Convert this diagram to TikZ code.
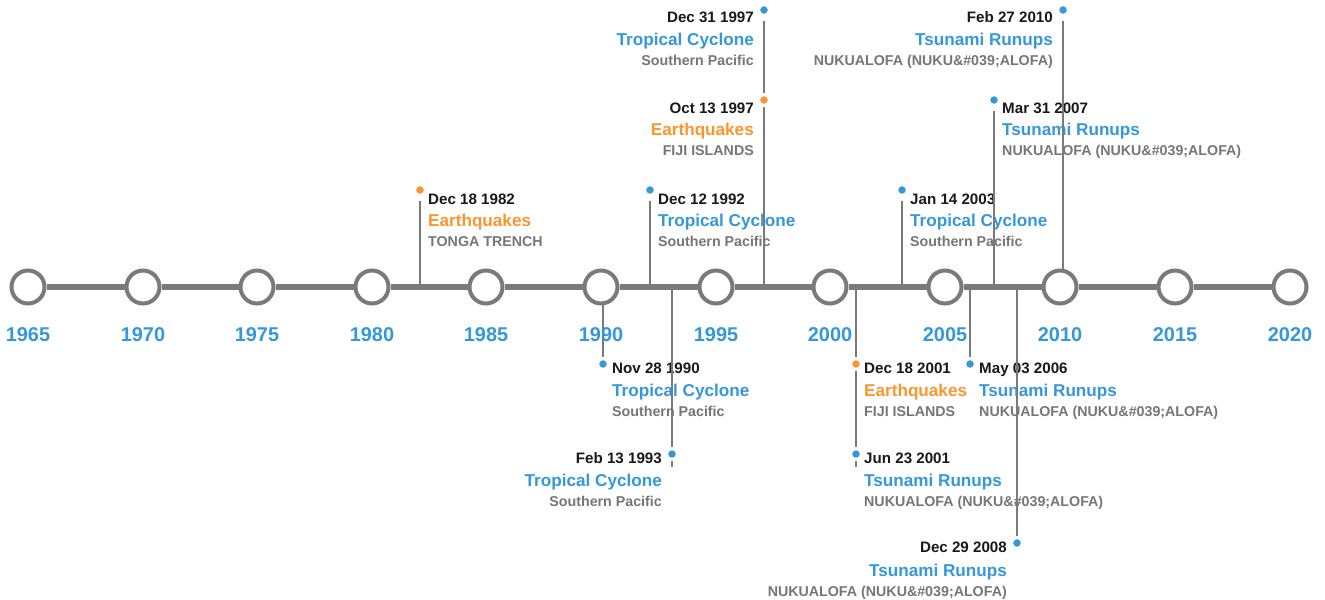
\documentclass[tikz,border=0pt]{standalone}
\usepackage{fontspec}
\setmainfont{Liberation Sans}
\usepackage{xcolor}
\usepackage{tikz}

\definecolor{tlgray}{RGB}{122,122,122}
\definecolor{tlblue}{RGB}{52,152,219}
\definecolor{tlorange}{RGB}{250,150,45}
\definecolor{tlsub}{RGB}{118,118,118}

\tikzset{
    yearmark/.style={circle, draw=tlgray, fill=white, line width=4bp, minimum size=33bp, inner sep=0pt,
        label={[yearlabel]below:#1}},
    yearlabel/.style={text=tlblue, font=\fontsize{20}{24}\selectfont\bfseries, inner sep=0pt, label distance=22bp},
    axisline/.style={draw=tlgray, line width=6bp},
    stem/.style={draw=tlgray, line width=2.5bp},
    dot/.style={circle, fill=#1, draw=white, line width=3bp, minimum size=11bp, inner sep=0pt},
    evdate/.style={text=black!90, font=\fontsize{15.2}{18}\selectfont\bfseries, inner sep=0pt},
    evtitle/.style={text=#1, font=\fontsize{17.2}{20}\selectfont\bfseries, inner sep=0pt},
    evsub/.style={text=tlsub, font=\fontsize{14.3}{17}\selectfont\bfseries, inner sep=0pt}
}

\begin{document}
\begin{tikzpicture}[x=1bp, y=-1bp]
    \useasboundingbox[fill=white] (0,0) rectangle (1325,600);

    % event points and their feet on the axis
    \coordinate (e82) at (420,190);   \coordinate (b82) at (420,287);
    \coordinate (e92) at (650,190);   \coordinate (b92) at (650,287);
    \coordinate (e03) at (902,190);   \coordinate (b03) at (902,287);
    \coordinate (e07) at (994,100);   \coordinate (b07) at (994,287);
    \coordinate (e97o) at (764,100);  \coordinate (b97o) at (764,287);
    \coordinate (e97d) at (764,10);   \coordinate (b97d) at (764,287);
    \coordinate (e10) at (1063,10);   \coordinate (b10) at (1063,287);
    \coordinate (e90) at (603,364);   \coordinate (b90) at (603,287);
    \coordinate (e93) at (672,454);   \coordinate (b93) at (672,287);   \coordinate (s93) at (672,467);
    \coordinate (e01d) at (856,364);  \coordinate (b01d) at (856,287);
    \coordinate (e01j) at (856,454);  \coordinate (b01j) at (856,287);  \coordinate (s01j) at (856,467);
    \coordinate (e06) at (970,364);   \coordinate (b06) at (970,287);
    \coordinate (e08) at (1017,543);  \coordinate (b08) at (1017,287);

    % labels above the axis
    \node[evdate, anchor=base west] (d82) at (428,204) {Dec 18 1982};
    \node[evtitle=tlorange, anchor=base west] (t82) at (428,226) {Earthquakes};
    \node[evsub, anchor=base west] (p82) at (428,246) {TONGA TRENCH};

    \node[evdate, anchor=base west] (d92) at (658,204) {Dec 12 1992};
    \node[evtitle=tlblue, anchor=base west] (t92) at (658,226) {Tropical Cyclone};
    \node[evsub, anchor=base west] (p92) at (658,246) {Southern Pacific};

    \node[evdate, anchor=base west] (d03) at (910,204) {Jan 14 2003};
    \node[evtitle=tlblue, anchor=base west] (t03) at (910,226) {Tropical Cyclone};
    \node[evsub, anchor=base west] (p03) at (910,246) {Southern Pacific};

    \node[evdate, anchor=base west] (d07) at (1002,114) {Mar 31 2007};
    \node[evtitle=tlblue, anchor=base west] (t07) at (1002,136) {Tsunami Runups};
    \node[evsub, anchor=base west] (p07) at (1002,156) {NUKUALOFA (NUKU\&\#039;ALOFA)};

    \node[evdate, anchor=base east] (d97o) at (754,114) {Oct 13 1997};
    \node[evtitle=tlorange, anchor=base east] (t97o) at (754,136) {Earthquakes};
    \node[evsub, anchor=base east] (p97o) at (754,156) {FIJI ISLANDS};

    \node[evdate, anchor=base east] (d97d) at (754,23) {Dec 31 1997};
    \node[evtitle=tlblue, anchor=base east] (t97d) at (754,46) {Tropical Cyclone};
    \node[evsub, anchor=base east] (p97d) at (754,66) {Southern Pacific};

    \node[evdate, anchor=base east] (d10) at (1053,23) {Feb 27 2010};
    \node[evtitle=tlblue, anchor=base east] (t10) at (1053,46) {Tsunami Runups};
    \node[evsub, anchor=base east] (p10) at (1053,66) {NUKUALOFA (NUKU\&\#039;ALOFA)};

    % labels below the axis
    \node[evdate, anchor=base west] (d90) at (612,373) {Nov 28 1990};
    \node[evtitle=tlblue, anchor=base west] (t90) at (612,396) {Tropical Cyclone};
    \node[evsub, anchor=base west] (p90) at (612,416) {Southern Pacific};

    \node[evdate, anchor=base east] (d93) at (662,463) {Feb 13 1993};
    \node[evtitle=tlblue, anchor=base east] (t93) at (662,486) {Tropical Cyclone};
    \node[evsub, anchor=base east] (p93) at (662,506) {Southern Pacific};

    \node[evdate, anchor=base west] (d01d) at (864,373) {Dec 18 2001};
    \node[evtitle=tlorange, anchor=base west] (t01d) at (864,396) {Earthquakes};
    \node[evsub, anchor=base west] (p01d) at (864,416) {FIJI ISLANDS};

    \node[evdate, anchor=base west] (d01j) at (864,463) {Jun 23 2001};
    \node[evtitle=tlblue, anchor=base west] (t01j) at (864,486) {Tsunami Runups};
    \node[evsub, anchor=base west] (p01j) at (864,506) {NUKUALOFA (NUKU\&\#039;ALOFA)};

    \node[evdate, anchor=base west] (d06) at (979,373) {May 03 2006};
    \node[evtitle=tlblue, anchor=base west] (t06) at (979,396) {Tsunami Runups};
    \node[evsub, anchor=base west] (p06) at (979,416) {NUKUALOFA (NUKU\&\#039;ALOFA)};

    \node[evdate, anchor=base east] (d08) at (1007,552) {Dec 29 2008};
    \node[evtitle=tlblue, anchor=base east] (t08) at (1007,576) {Tsunami Runups};
    \node[evsub, anchor=base east] (p08) at (1007,596) {NUKUALOFA (NUKU\&\#039;ALOFA)};

    % stems
    \draw[stem, shorten >=11bp] (b82) -- (e82);
    \draw[stem, shorten >=11bp] (b92) -- (e92);
    \draw[stem, shorten >=11bp] (b03) -- (e03);
    \draw[stem, shorten >=11bp] (b07) -- (e07);
    \draw[stem, shorten >=11bp] (b97o) -- (e97o);
    \draw[stem, shorten >=11bp] (b97d) -- (e97d);
    \draw[stem, shorten >=11bp] (b10) -- (e10);
    \draw[stem] (b90) -- (e90);
    \draw[stem] (b93) -- (s93);
    \draw[stem] (b01d) -- (e01d);
    \draw[stem] (b01j) -- (s01j);
    \draw[stem] (b06) -- (e06);
    \draw[stem] (b08) -- (e08);

    % the axis
    \node[yearmark=1965] (c1965) at (28,287) {};
    \node[yearmark=1970] (c1970) at (143,287) {};
    \node[yearmark=1975] (c1975) at (257,287) {};
    \node[yearmark=1980] (c1980) at (372,287) {};
    \node[yearmark=1985] (c1985) at (486,287) {};
    \node[yearmark=1990] (c1990) at (601,287) {};
    \node[yearmark=1995] (c1995) at (716,287) {};
    \node[yearmark=2000] (c2000) at (830,287) {};
    \node[yearmark=2005] (c2005) at (945,287) {};
    \node[yearmark=2010] (c2010) at (1060,287) {};
    \node[yearmark=2015] (c2015) at (1175,287) {};
    \node[yearmark=2020] (c2020) at (1290,287) {};
    \draw[axisline] (c1965) -- (c1970) -- (c1975) -- (c1980) -- (c1985) -- (c1990) -- (c1995)
        -- (c2000) -- (c2005) -- (c2010) -- (c2015) -- (c2020);

    % dots
    \node[dot=tlorange] (o82) at (e82) {};
    \node[dot=tlblue] (o92) at (e92) {};
    \node[dot=tlblue] (o03) at (e03) {};
    \node[dot=tlblue] (o07) at (e07) {};
    \node[dot=tlorange] (o97o) at (e97o) {};
    \node[dot=tlblue] (o97d) at (e97d) {};
    \node[dot=tlblue] (o10) at (e10) {};
    \node[dot=tlblue] (o90) at (e90) {};
    \node[dot=tlblue] (o93) at (e93) {};
    \node[dot=tlorange] (o01d) at (e01d) {};
    \node[dot=tlblue] (o01j) at (e01j) {};
    \node[dot=tlblue] (o06) at (e06) {};
    \node[dot=tlblue] (o08) at (e08) {};
\end{tikzpicture}
\end{document}
